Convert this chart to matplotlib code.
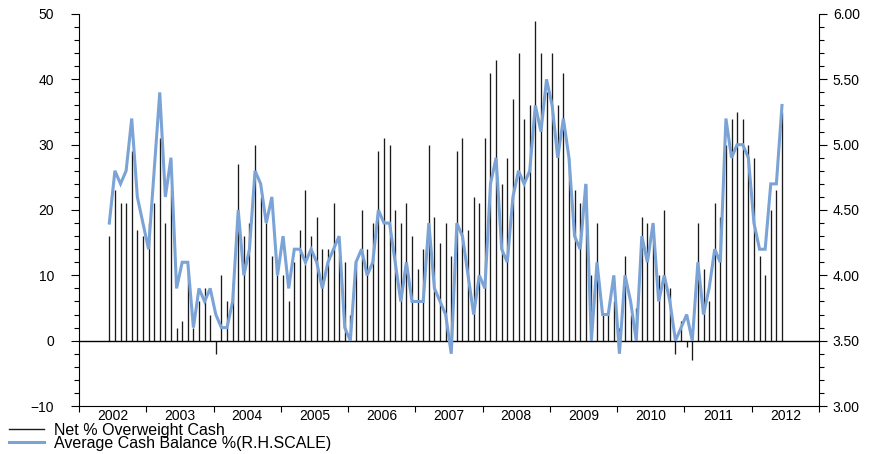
import numpy as np
import matplotlib
matplotlib.use("Agg")
import matplotlib.pyplot as plt
from matplotlib.lines import Line2D
from matplotlib.ticker import MultipleLocator, FixedLocator, FormatStrFormatter

plt.rcParams['font.family'] = ['Liberation Sans', 'DejaVu Sans']

# monthly survey, Jun 2002 - Jun 2012
START_YEAR = 2002
START_MONTH = 6

# Net % Overweight Cash (left scale)
net_overweight = [
    16, 23, 21, 21, 29, 17, 16, 18, 21, 31, 18, 23, 2, 3, 11, 2,
    6, 8, 4, -2, 10, 6, 9, 27, 16, 18, 30, 22, 18, 13, 10, 10,
    6, 12, 17, 23, 16, 19, 14, 14, 21, 13, 12, 4, 12, 20, 14, 18,
    29, 31, 30, 20, 18, 21, 16, 11, 14, 30, 19, 15, 18, 13, 29, 31,
    17, 22, 21, 31, 41, 43, 24, 28, 37, 44, 34, 36, 49, 44, 38, 44,
    36, 41, 28, 23, 21, 24, 10, 18, 4, 4, 6, 2, 13, 4, 5, 19,
    18, 18, 10, 20, 8, -2, 3, -1, -3, 18, 11, 6, 21, 19, 30, 34,
    35, 34, 30, 28, 13, 10, 20, 23, 35,
]

# Average Cash Balance % (right scale)
cash_balance = [
    4.4, 4.8, 4.7, 4.8, 5.2, 4.6, 4.4, 4.2, 4.8, 5.4, 4.6, 4.9, 3.9, 4.1, 4.1, 3.6,
    3.9, 3.8, 3.9, 3.7, 3.6, 3.6, 3.8, 4.5, 4.0, 4.2, 4.8, 4.7, 4.4, 4.6, 4.0, 4.3,
    3.9, 4.2, 4.2, 4.1, 4.2, 4.1, 3.9, 4.1, 4.2, 4.3, 3.6, 3.5, 4.1, 4.2, 4.0, 4.1,
    4.5, 4.4, 4.4, 4.1, 3.8, 4.1, 3.8, 3.8, 3.8, 4.4, 3.9, 3.8, 3.7, 3.4, 4.4, 4.3,
    4.0, 3.7, 4.0, 3.9, 4.7, 4.9, 4.2, 4.1, 4.6, 4.8, 4.7, 4.8, 5.3, 5.1, 5.5, 5.3,
    4.9, 5.2, 4.9, 4.3, 4.2, 4.7, 3.5, 4.1, 3.7, 3.7, 4.0, 3.4, 4.0, 3.8, 3.5, 4.3,
    4.1, 4.4, 3.8, 4.0, 3.8, 3.5, 3.6, 3.7, 3.5, 4.1, 3.7, 3.9, 4.2, 4.1, 5.2, 4.9,
    5.0, 5.0, 4.9, 4.4, 4.2, 4.2, 4.7, 4.7, 5.3,
]

years = list(range(2002, 2013))

months = np.arange(len(net_overweight))
x = START_YEAR + (START_MONTH - 1 + 0.4 + months) / 12.0

fig = plt.figure(figsize=(8.85, 4.54), dpi=100)
ax = fig.add_axes([0.0893, 0.1057, 0.8361, 0.8635])
ax2 = ax.twinx()

ax.vlines(x, 0, net_overweight, color='#1a1a1a', lw=0.95)
ax.axhline(0, color='black', lw=1.0)
ax2.plot(x, cash_balance, color='#7ba3d6', lw=2.2, solid_joinstyle='miter')

ax.set_xlim(years[0], years[-1] + 1)
ax.set_ylim(-10, 50)
ax2.set_ylim(3.0, 6.0)

# year boundaries as ticks, labels centred within each year
ax.xaxis.set_major_locator(FixedLocator(years + [years[-1] + 1]))
ax.xaxis.set_major_formatter(plt.NullFormatter())
ax.set_xticks([y + 0.5 for y in years], [str(y) for y in years], minor=True)
ax.tick_params(axis='x', which='major', direction='out', length=4, width=0.8)
ax.tick_params(axis='x', which='minor', length=0, pad=2, labelsize=10)

ax.yaxis.set_major_locator(MultipleLocator(10))
ax.yaxis.set_minor_locator(MultipleLocator(2))
ax.tick_params(axis='y', which='major', direction='out', length=6, width=0.8,
               pad=12, labelsize=10)
ax.tick_params(axis='y', which='minor', direction='out', length=3.5, width=0.8)

ax2.yaxis.set_major_locator(MultipleLocator(0.5))
ax2.yaxis.set_minor_locator(MultipleLocator(0.1))
ax2.yaxis.set_major_formatter(FormatStrFormatter('%.2f'))
ax2.tick_params(axis='y', which='major', direction='out', length=6, width=0.8,
                pad=4, labelsize=10)
ax2.tick_params(axis='y', which='minor', direction='out', length=3.5, width=0.8)

for a in (ax, ax2):
    a.spines['top'].set_visible(False)
ax.spines['right'].set_visible(False)
ax2.spines['left'].set_visible(False)
ax2.spines['bottom'].set_visible(False)

handles = [Line2D([], [], color='#1a1a1a', lw=1.0),
           Line2D([], [], color='#7ba3d6', lw=2.2)]
labels = ['Net % Overweight Cash', 'Average Cash Balance %(R.H.SCALE)']
fig.legend(handles, labels, loc='upper left', bbox_to_anchor=(0.010, 0.069),
           frameon=False, fontsize=11.5, borderpad=0, borderaxespad=0,
           handlelength=2.2, handletextpad=0.65, labelspacing=-0.1)

fig.savefig('out.png', dpi=100)
